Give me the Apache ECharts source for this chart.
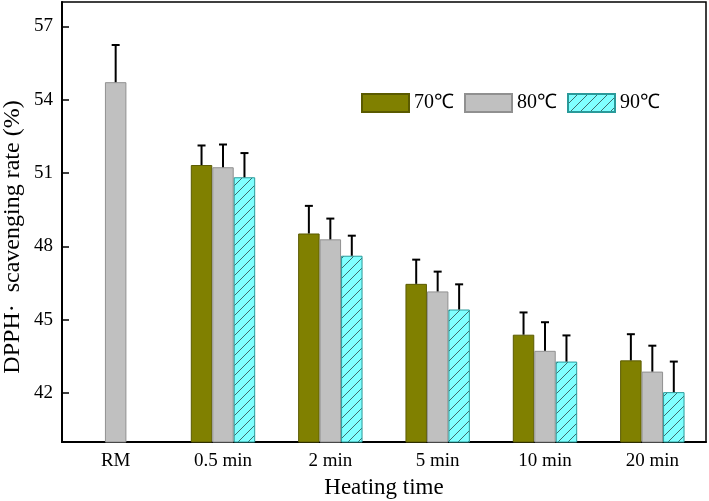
<!DOCTYPE html>
<html>
<head>
<meta charset="utf-8">
<script src="https://cdn.jsdelivr.net/npm/echarts@6/dist/echarts.min.js"></script>
<style>html,body{margin:0;padding:0;background:#fff}#c{width:709px;height:501px}</style>
</head>
<body>
<div id="c"></div>
<script>
const categories = ['RM', '0.5 min', '2 min', '5 min', '10 min', '20 min'];
const temps = ['70℃', '80℃', '90℃'];
const values70 = [null, 51.33, 48.53, 46.47, 44.39, 43.34];
const values80 = [54.72, 51.24, 48.29, 46.16, 43.73, 42.88];
const values90 = [null, 50.83, 47.62, 45.42, 43.29, 42.04];
const err70 = [null, 0.80, 1.13, 0.99, 0.91, 1.07];
const err80 = [1.52, 0.93, 0.85, 0.81, 1.17, 1.06];
const err90 = [null, 0.99, 0.82, 1.03, 1.07, 1.25];
const yTicks = [42, 45, 48, 51, 54, 57];
const yTitle = 'DPPH·  scavenging rate (%)';
const xTitle = 'Heating time';

const FONT = "'Liberation Serif', 'Times New Roman', serif";
const BAR_FRAC = 0.2;

function hatch() {
  const s = 10;
  const cv = document.createElement('canvas');
  cv.width = s; cv.height = s;
  const ctx = cv.getContext('2d');
  ctx.fillStyle = '#80FFFF';
  ctx.fillRect(0, 0, s, s);
  ctx.strokeStyle = '#3a5a5a';
  ctx.lineWidth = 0.9;
  ctx.beginPath();
  ctx.moveTo(0, s); ctx.lineTo(s, 0);
  ctx.moveTo(-1, 1); ctx.lineTo(1, -1);
  ctx.moveTo(s - 1, s + 1); ctx.lineTo(s + 1, s - 1);
  ctx.stroke();
  return cv;
}

function toData(vals) { return vals.map(v => v == null ? '-' : v); }

function makeErr(vals, errs, k) {
  const data = [];
  vals.forEach((v, i) => { if (v != null) data.push([i, v, errs[i]]); });
  return {
    type: 'custom', z: 5, silent: true, data: data,
    encode: { x: 0, y: 1 },
    renderItem: function (params, api) {
      const i = api.value(0), v = api.value(1), e = api.value(2);
      const band = api.size([1, 0])[0];
      const bw = band * BAR_FRAC;
      const base = api.coord([i, v]);
      const top = api.coord([i, v + e]);
      const x = base[0] + (k - 1) * bw;
      return {
        type: 'group', children: [
          { type: 'line', shape: { x1: x, y1: base[1], x2: x, y2: top[1] }, style: { stroke: '#000', lineWidth: 2 } },
          { type: 'line', shape: { x1: x - 4, y1: top[1], x2: x + 4, y2: top[1] }, style: { stroke: '#000', lineWidth: 2 } }
        ]
      };
    }
  };
}

const chart = echarts.init(document.getElementById('c'), null, { renderer: 'canvas' });
const pattern = { image: hatch(), repeat: 'repeat' };

chart.setOption({
  backgroundColor: '#fff',
  animation: false,
  textStyle: { fontFamily: FONT },
  grid: { left: 62, right: 3, top: 2, bottom: 59, outerBoundsMode: 'none', containLabel: false,
    show: true, borderColor: '#000', borderWidth: 1.5, backgroundColor: 'transparent' },
  graphic: [{
    type: 'text', x: 13, y: 237, rotation: Math.PI / 2,
    style: { text: yTitle, fontFamily: FONT, fontSize: 24, fill: '#000', align: 'center', verticalAlign: 'middle' }
  }],
  legend: {
    data: temps,
    left: 356, top: 88,
    itemWidth: 47, itemHeight: 18, itemGap: 10,
    textStyle: { fontFamily: FONT, fontSize: 20, color: '#000' },
    icon: 'rect'
  },
  xAxis: {
    type: 'category', data: categories,
    name: xTitle, nameLocation: 'middle', nameGap: 34,
    nameTextStyle: { fontFamily: FONT, fontSize: 23, color: '#000' },
    axisLine: { lineStyle: { color: '#000', width: 2 } },
    axisTick: { inside: true, length: 4, lineStyle: { color: '#000', width: 1.5 } },
    axisLabel: { fontFamily: FONT, fontSize: 19, color: '#000', margin: 10 },
    splitLine: { show: false }
  },
  yAxis: {
    type: 'value', min: 40, max: 58,
    axisLine: { show: true, lineStyle: { color: '#000', width: 2 } },
    axisTick: { show: true, inside: true, length: 7, customValues: yTicks, lineStyle: { color: '#000', width: 1.5 } },
    axisLabel: { fontFamily: FONT, fontSize: 19, color: '#000', margin: 9, customValues: yTicks },
    splitLine: { show: false }
  },
  series: [
    { name: temps[0], type: 'bar', data: toData(values70), barWidth: '20%', barGap: '0%',
      itemStyle: { color: '#808000', borderColor: '#5a5a00', borderWidth: 1 } },
    { name: temps[1], type: 'bar', data: toData(values80), barWidth: '20%', barGap: '0%',
      itemStyle: { color: '#C0C0C0', borderColor: '#909090', borderWidth: 1 } },
    { name: temps[2], type: 'bar', data: toData(values90), barWidth: '20%', barGap: '0%',
      itemStyle: { color: pattern, borderColor: '#2a9a9a', borderWidth: 1 } },
    makeErr(values70, err70, 0),
    makeErr(values80, err80, 1),
    makeErr(values90, err90, 2)
  ]
});
</script>
</body>
</html>
